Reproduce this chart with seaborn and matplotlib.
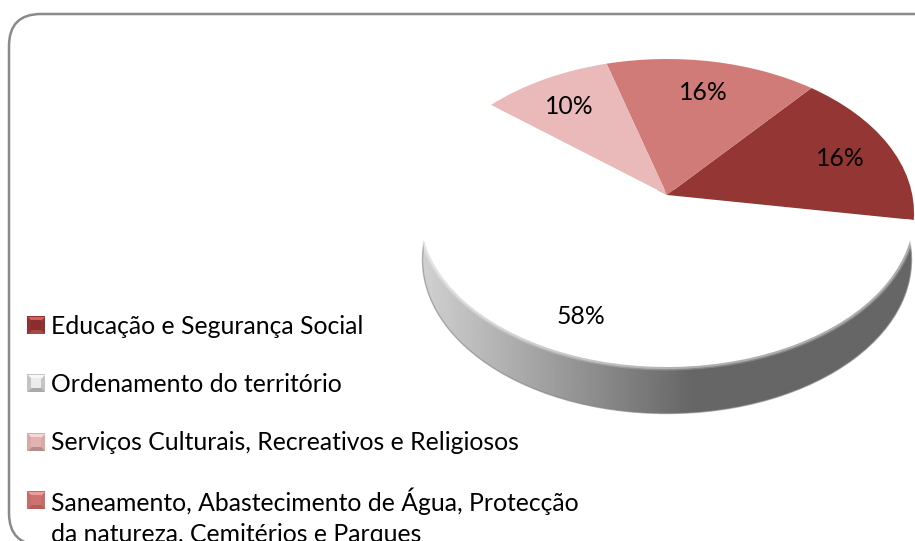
import numpy as np
import matplotlib
matplotlib.use("Agg")
import matplotlib.pyplot as plt
from matplotlib.patches import Circle, FancyBboxPatch
from matplotlib.transforms import Transform, Affine2D
import seaborn as sns

# slices, counter clockwise from the right
categories = ["Educação e Segurança Social",
              "Saneamento, Abastecimento de Água, Protecção\nda natureza, Cemitérios e Parques",
              "Serviços Culturais, Recreativos e Religiosos",
              "Ordenamento do território"]
values = [16.5, 15.5, 9.6, 58.4]
colors = ["#943634", "#D17B79", "#E9BAB9", "#FFFFFF"]
legend_order = [0, 3, 2, 1]
legend_y = [325, 383, 442, 500]
# centre, side, top and bottom shade of each legend square (same order as categories)
marker_centres = ["#8a2e2d", "#cc7371", "#e3b3b2", "#ececec"]
marker_sides = ["#8f3231", "#c66c6a", "#d9a9a8", "#c4c4c4"]
marker_tops = ["#d2605c", "#ee9c9a", "#f3dad9", "#f7f7f7"]
marker_bottoms = ["#a64a48", "#b65c5a", "#b38c8b", "#a9a9a9"]

sns.set_theme(style="white")
plt.rcParams['font.family'] = ['Lato', 'DejaVu Sans']
FS = 17.8


# tilted disc, the front is nearer so it looks bigger
class Tilt(Transform):
    input_dims = 2
    output_dims = 2
    is_separable = False
    has_inverse = False

    def transform_non_affine(self, xy):
        xy = np.asarray(xy, dtype=float)
        w = 1 + 0.1169 * xy[:, 1]
        return np.column_stack([667 + 245.3 * xy[:, 0] / w, 195 - 151.9 * xy[:, 1] / w])


fig = plt.figure(figsize=(9.15, 5.41), dpi=100, facecolor="white")
ax = fig.add_axes([0, 0, 1, 1])

wedges, _, pct = ax.pie(values, colors=sns.color_palette(colors), startangle=-9.3,
                        autopct="%.0f%%", pctdistance=0.78,
                        textprops={"fontsize": FS, "color": "black"})
ax.set_aspect("auto")
ax.set_xlim(0, 915)
ax.set_ylim(541, 0)
ax.axis("off")

tilt = Tilt() + ax.transData
label_tilt = Tilt() + Affine2D().translate(0, 3.5) + ax.transData
for w in wedges:
    w.set_transform(tilt)
    w.set_zorder(3)
    w.set_linewidth(0)
for t in pct:
    t.set_transform(label_tilt)
    t.set_zorder(5)

# outer frame, runs off the right and bottom
ax.add_patch(FancyBboxPatch((9, 14), 940, 531, boxstyle="round,pad=0,rounding_size=32",
                            fc="white", ec="#8a8a8a", lw=1.8, zorder=0))

# side of the disc: grey gradient clipped to the disc moved down
down = Tilt() + Affine2D().translate(-667, 0).scale(0.99, 1).translate(667, 46.5) + ax.transData
ax.add_patch(Circle((0, 0), 1, transform=down, fc="none", ec="#7f7f7f", lw=1.0, alpha=0.6, zorder=2))
grad = np.clip((np.linspace(421, 913, 256) - 421) / (693 - 421), 0, 1)
grad = 0.82 + (0.40 - 0.82) * grad
im = ax.imshow(grad[None, :], extent=(421, 913, 420, 190), cmap="gray", vmin=0, vmax=1,
               aspect="auto", zorder=1)
im.set_clip_path(Circle((0, 0), 1, transform=down))
ax.set_xlim(0, 915)
ax.set_ylim(541, 0)

# soft white edge where the top meets the side
for lw, a in [(5, 0.2), (3, 0.35)]:
    ax.add_patch(Circle((0, 0), 1, transform=tilt, fc="none", ec="white", lw=lw, alpha=a, zorder=2.5))

# legend with small bevelled squares
top_tri = [(-1, 1), (1, 1), (0, 0)]
bottom_tri = [(-1, -1), (1, -1), (0, 0)]
for i, y in zip(legend_order, legend_y):
    ax.scatter([36], [y], marker="s", s=150, c=marker_sides[i], linewidths=0, zorder=4)
    ax.scatter([36], [y], marker=top_tri, s=150, c=marker_tops[i], linewidths=0, zorder=4.1)
    ax.scatter([36], [y], marker=bottom_tri, s=150, c=marker_bottoms[i], linewidths=0, zorder=4.1)
    ax.scatter([36], [y], marker="s", s=45, c=marker_centres[i], linewidths=0, zorder=4.2)
    lines = categories[i].split("\n")
    for k, line in enumerate(lines):
        ax.text(51, y + 1 + 34 * k, line, fontsize=FS, color="black", va="center", zorder=5)

fig.savefig("out.png", dpi=100)
